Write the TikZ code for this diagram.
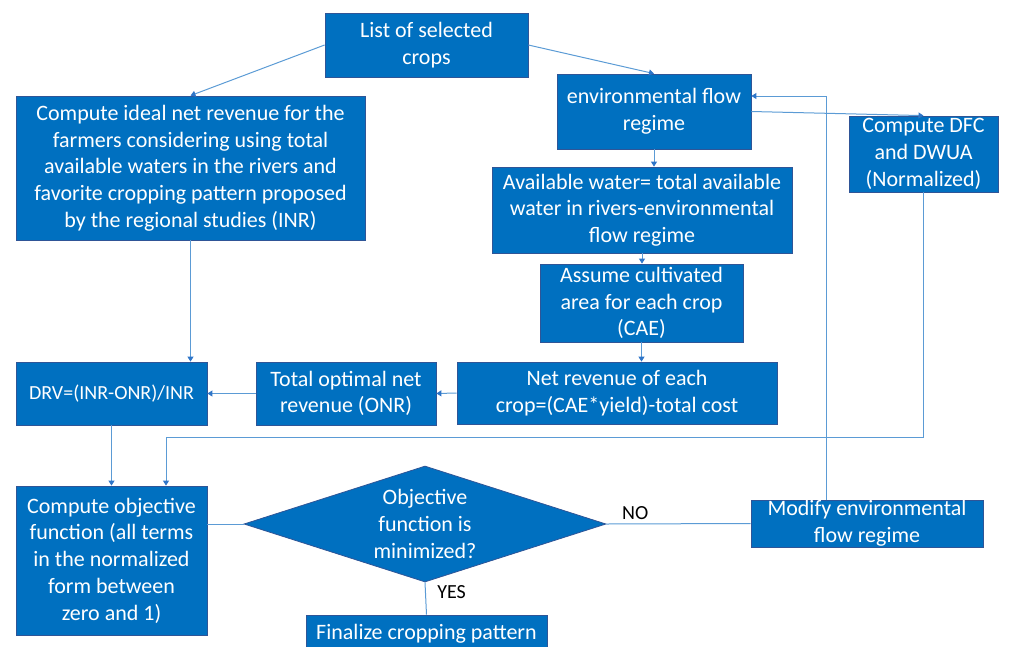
\documentclass[tikz,border=0pt]{standalone}
\usepackage{fontspec}
\setmainfont{Carlito}
\usetikzlibrary{shapes.geometric,arrows.meta}
\definecolor{boxblue}{HTML}{0070C0}
\definecolor{edgeblue}{HTML}{2F5597}
\definecolor{lineblue}{HTML}{5B9BD5}
\definecolor{tipblue}{HTML}{2E75C8}
\begin{document}
\begin{tikzpicture}[x=1pt, y=-1pt,
        block/.style={draw=edgeblue, line width=0.8pt, fill=boxblue, text=white, align=center,
            inner sep=0pt, font=\fontsize{22}{26.7}\selectfont},
        decision/.style={diamond, draw=edgeblue, line width=0.8pt, fill=boxblue, inner sep=0pt},
        link/.style={draw=lineblue, line width=1pt},
        arr/.style={link, -{Triangle[length=5pt, width=6pt, color=tipblue]}},
        tag/.style={font=\fontsize{20}{24}\selectfont, text=black}]
    \useasboundingbox (0,0) rectangle (1034,646);

    % boxes
    \node[block, minimum width=203pt, minimum height=64pt] (crops) at (426.5,45) {List of selected\\crops};
    \node[block, minimum width=349pt, minimum height=144pt] (inr) at (190.5,168) {Compute ideal net revenue for the\\farmers considering using total\\available waters in the rivers and\\favorite cropping pattern proposed\\by the regional studies (INR)};
    \node[block, minimum width=194pt, minimum height=75pt] (flow) at (654,111.5) {environmental flow\\regime};
    \node[block, minimum width=149pt, minimum height=76pt] (dfc) at (923.5,154) {Compute DFC\\and DWUA\\(Normalized)};
    \node[block, minimum width=300pt, minimum height=86pt] (avail) at (642,210) {Available water= total available\\water in rivers-environmental\\flow regime};
    \node[block, minimum width=203pt, minimum height=78pt] (assume) at (641.5,303) {Assume cultivated\\area for each crop\\(CAE)};
    \node[block, minimum width=320pt, minimum height=62pt] (netrev) at (617,393) {Net revenue of each\\crop=(CAE*yield)-total cost};
    \node[block, minimum width=180pt, minimum height=63pt] (onr) at (346,393.5) {Total optimal net\\revenue (ONR)};
    \node[block, minimum width=191pt, minimum height=63pt, font=\fontsize{20}{24}\selectfont] (drv) at (111.5,393.5) {DRV=(INR-ONR)/INR};
    \node[block, minimum width=191pt, minimum height=149pt] (objf) at (111.5,560.5) {Compute objective\\function (all terms\\in the normalized\\form between\\zero and 1)};
    \node[decision, minimum width=362pt, minimum height=116pt] (dec) at (425,524) {};
    \node[block, draw=none, fill=none] at (dec) {Objective\\function is\\minimized?};
    \node[block, minimum width=232pt, minimum height=47pt] (modify) at (867,523.5) {Modify environmental\\flow regime};
    \node[block, minimum width=241pt, minimum height=38pt] (final) at (426.5,634) {Finalize cropping pattern};

    \coordinate (join) at (166,437);
    \coordinate (back) at (826,96);

    % connectors
    \draw[arr] (crops.west) -- (inr.north);
    \draw[arr] (crops.east) -- (flow.north);
    \draw[arr] (flow.east) -- (dfc.north);
    \draw[arr] (flow.south) -- (flow.south |- avail.north);
    \draw[arr] (avail.south) -- (avail.south |- assume.north);
    \draw[arr] (assume.south) -- (assume.south |- netrev.north);
    \draw[arr] (netrev.west) -- (onr.east);
    \draw[arr] (onr.west) -- (drv.east);
    \draw[arr] (inr.south) -- (inr.south |- drv.north);
    \draw[arr] (drv.south) -- (objf.north);
    \draw[arr] (dfc.south) |- (join) -- (join |- objf.north);
    \draw[link] (objf.east |- dec.west) -- (dec.west);
    \draw[link] (dec.east) -- (modify.west) node[tag, pos=0.2, above] {NO};
    \draw[arr] (back |- modify.north) -- (back) -- (back -| flow.east);
    \draw[link] (dec.south) -- (final.north) node[tag, pos=0.3, right, xshift=8pt] {YES};
\end{tikzpicture}
\end{document}
